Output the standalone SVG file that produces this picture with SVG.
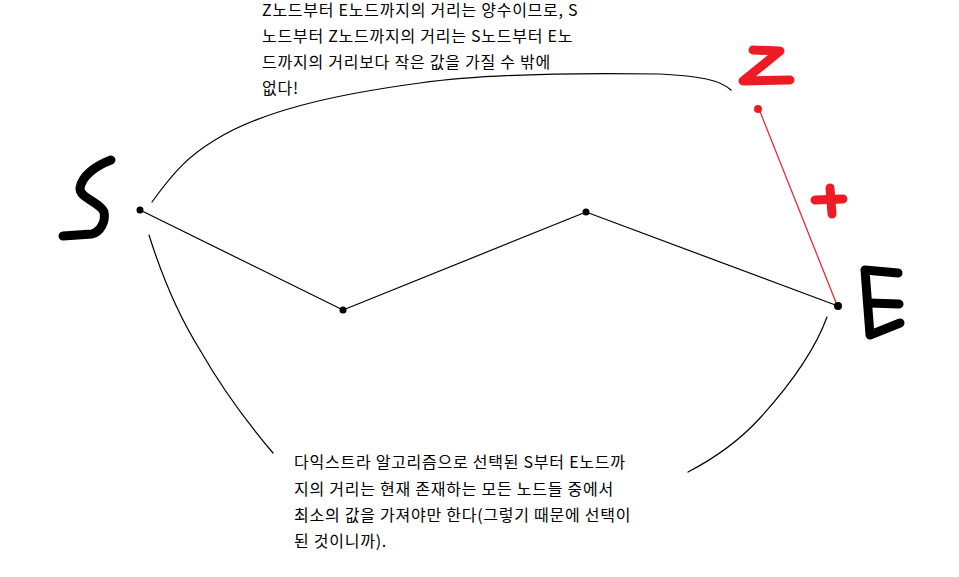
<svg xmlns="http://www.w3.org/2000/svg" width="959" height="577" viewBox="0 0 959 577">
<style>
.bg{fill:#ffffff}
.edge{fill:none;stroke:#000;stroke-width:1.2;stroke-linecap:round;stroke-linejoin:round}
.red{fill:none;stroke:#ed1c24;stroke-width:1.2}
.ink{fill:none;stroke:#000;stroke-width:9;stroke-linecap:round;stroke-linejoin:round}
.inkr{fill:none;stroke:#ed1c24;stroke-width:9;stroke-linecap:round;stroke-linejoin:round}
.dot{fill:#000}
.dotr{fill:#ed1c24}
.note{font-family:"Noto Sans CJK KR","Noto Sans",sans-serif;font-size:16px;letter-spacing:0.75px;fill:#000}
</style>
<rect class="bg" x="0" y="0" width="959" height="577"/>
<g id="connectors">
<polyline class="edge" points="140,210 343,310 586,212 838,306"/>
<line class="red" x1="759" y1="109" x2="837" y2="305"/>
<path class="edge" d="M152,202 C175,170 190,155 215,140 C260,112 330,95 420,83 C500,72 600,73 660,74 C700,76 720,80 731,90"/>
<path class="edge" d="M149,235 C160,270 175,310 200,350 C220,385 245,420 273,453"/>
<path class="edge" d="M827,317 C815,350 790,385 760,418 C740,440 715,458 688,472"/>
</g>
<g id="node-S">
<path class="ink" d="M111,160 C95,166 82,176 80,188 C79,198 100,202 104,212 C106,222 100,232 92,234 L63,236"/>
<circle class="dot" cx="140" cy="210" r="3.5"/>
</g>
<g id="node-mid1"><circle class="dot" cx="343" cy="310" r="3.5"/></g>
<g id="node-mid2"><circle class="dot" cx="586" cy="212" r="3.5"/></g>
<g id="node-Z">
<polyline class="inkr" points="753,50 780,51 743,81 790,80"/>
<circle class="dotr" cx="758" cy="109" r="4"/>
</g>
<g id="plus">
<line class="inkr" x1="830" y1="188" x2="832" y2="214" stroke-width="8"/>
<line class="inkr" x1="815" y1="200" x2="843" y2="199" stroke-width="8"/>
</g>
<g id="node-E">
<polyline class="ink" points="898,273 865,270 870,335 900,323"/>
<line class="ink" x1="869" y1="303" x2="899" y2="304"/>
<circle class="dot" cx="838" cy="306" r="4"/>
</g>
<g id="note-top">
<text class="note" x="262" y="16">Z노드부터 E노드까지의 거리는 양수이므로, S</text>
<text class="note" x="262" y="42">노드부터 Z노드까지의 거리는 S노드부터 E노</text>
<text class="note" x="262" y="68">드까지의 거리보다 작은 값을 가질 수 밖에</text>
<text class="note" x="262" y="94">없다!</text>
</g>
<g id="note-bottom">
<text class="note" x="294" y="468">다익스트라 알고리즘으로 선택된 S부터 E노드까</text>
<text class="note" x="294" y="495">지의 거리는 현재 존재하는 모든 노드들 중에서</text>
<text class="note" x="294" y="521">최소의 값을 가져야만 한다(그렇기 때문에 선택이</text>
<text class="note" x="294" y="547">된 것이니까).</text>
</g>
</svg>
